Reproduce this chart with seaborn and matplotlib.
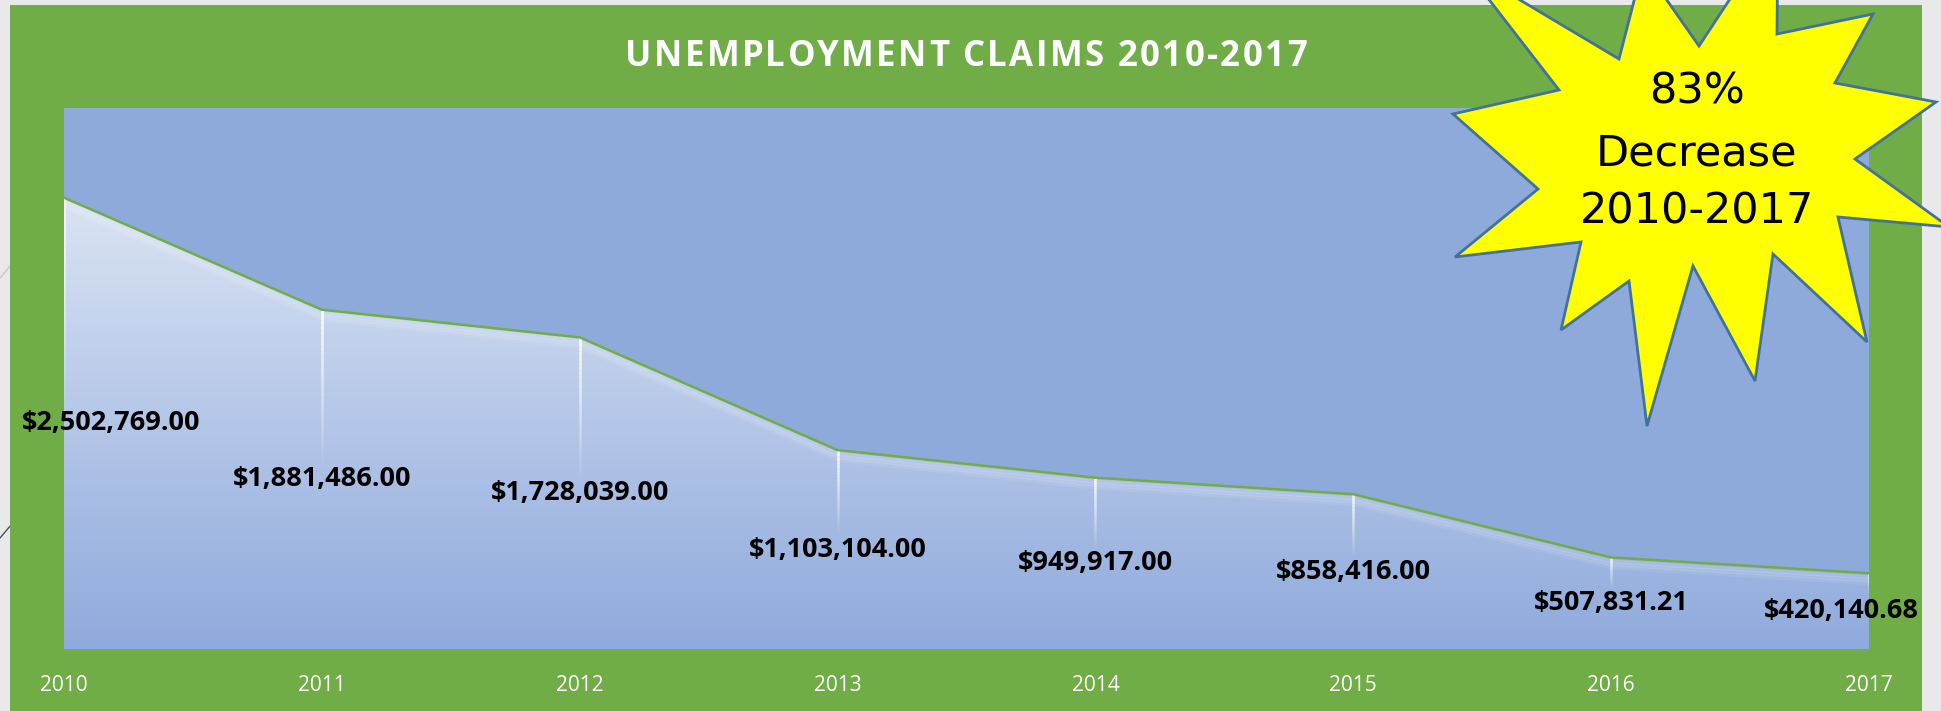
import numpy as np
import pandas as pd
import seaborn as sns
import matplotlib
matplotlib.use("Agg")
import matplotlib.pyplot as plt
import matplotlib.transforms as mtransforms
from matplotlib.patches import Rectangle, Polygon
from matplotlib.lines import Line2D
from matplotlib.collections import LineCollection
from matplotlib.colors import LinearSegmentedColormap

# data
years = ["2010", "2011", "2012", "2013", "2014", "2015", "2016", "2017"]
claims = [2502769.00, 1881486.00, 1728039.00, 1103104.00, 949917.00, 858416.00, 507831.21, 420140.68]
title = "UNEMPLOYMENT CLAIMS 2010-2017"
burst_lines = ["83%", "Decrease", "2010-2017"]

# colours / layout
GREEN = "#70AD47"
PLOT_BG = "#8EAADB"
W, H = 1941, 711
label_dx = [34, 0, 0, 0, 0, 0, 0, -20]  # points, keeps end labels inside the panel

sns.set_style("white")
plt.rcParams["font.family"] = ["Open Sans", "DejaVu Sans"]

fig = plt.figure(figsize=(W / 100, H / 100), dpi=100, facecolor="#e9e9e9")


def fx(x):
    return x / W


def fy(y):
    return 1 - y / H


# stray lines from an object behind the chart (left edge)
fig.add_artist(Line2D([0, fx(11)], [fy(278), fy(265)], color="#c8c8c8", lw=1, zorder=-10))
fig.add_artist(Line2D([0, fx(11)], [fy(538), fy(525)], color="#44546A", lw=1, zorder=-10))

# green chart panel
fig.add_artist(Rectangle((fx(10), 0), fx(1912), 706 / H, transform=fig.transFigure,
                         facecolor=GREEN, edgecolor="none", zorder=-5))

ax = fig.add_axes([fx(64), fy(649), fx(1805), 541 / H])
ax.set_facecolor(PLOT_BG)

df = pd.DataFrame({"pos": np.arange(len(years)), "year": years, "claims": claims})

# gradient area
fill = ax.fill_between(df["pos"], 0, df["claims"], facecolor="none", edgecolor="none")
cmap = LinearSegmentedColormap.from_list("area", ["#8FAADC", "#DAE3F3"])
grad = np.linspace(0, 1, 256).reshape(-1, 1)
im = ax.imshow(grad, extent=[0, len(years) - 1, 0, max(claims)], origin="lower",
               aspect="auto", cmap=cmap, zorder=1)
im.set_clip_path(fill.get_paths()[0], ax.transData)

# soft highlight just under the top edge
for off, a in [(3, 0.12), (5, 0.12), (7, 0.08)]:
    shift = mtransforms.ScaledTranslation(0, -off / 72, fig.dpi_scale_trans)
    ax.plot(df["pos"], df["claims"], color="white", alpha=a, lw=3, zorder=2,
            transform=ax.transData + shift, solid_capstyle="butt")

sns.lineplot(data=df, x="pos", y="claims", color=GREEN, lw=1.8, ax=ax, zorder=4)

# white leader lines fading towards the labels
for i, v in enumerate(claims):
    top, bottom = v, v / 2 + 90000
    ys = np.linspace(top, bottom, 31)
    segs = [[(i, ys[k]), (i, ys[k + 1])] for k in range(30)]
    alphas = np.linspace(0.95, 0.05, 30)
    lc = LineCollection(segs, colors=[(1, 1, 1, a) for a in alphas], linewidths=1.8, zorder=3)
    ax.add_collection(lc)

# data labels in the middle of the area
for i, v in enumerate(claims):
    ax.annotate(f"${v:,.2f}", (i, v / 2), xytext=(label_dx[i], 0), textcoords="offset points",
                ha="center", va="center", fontsize=19.5, fontweight="bold", color="black",
                zorder=6, annotation_clip=False)

ax.set_xlim(0, len(years) - 1)
ax.set_ylim(0, 3000000)
ax.set_xticks(df["pos"])
ax.set_xticklabels(years, color="white", fontsize=15)
ax.tick_params(axis="x", length=0, pad=19)
ax.set_yticks([])
ax.set_xlabel("")
ax.set_ylabel("")
for s in ax.spines.values():
    s.set_visible(False)

# letter-spaced title
renderer = fig.canvas.get_renderer()
tkw = dict(fontsize=25, fontweight="bold", color="white")


def text_width(s):
    t = fig.text(0, 0, s, **tkw)
    w = t.get_window_extent(renderer).width
    t.remove()
    return w


target_w = 681
base_w = text_width(title)
extra = (target_w - base_w) / (len(title) - 1)
x0 = 966 - target_w / 2
ref_w = text_width("X")
for i, ch in enumerate(title):
    if ch == " ":
        continue
    x = x0 + text_width(title[:i] + "X") - ref_w + extra * i
    fig.text(fx(x), fy(66), ch, ha="left", va="baseline", **tkw)

# starburst callout (figure pixel coords)
burst = [(1453, 114), (1559, 90), (1463, -34), (1619, 59), (1643, -34), (1699, 46),
         (1778, -74), (1777, 34), (1873, 14), (1835, 83), (1936, 102), (1855, 159),
         (1949, 227), (1838, 217), (1867, 342), (1773, 254), (1755, 381), (1693, 266),
         (1647, 426), (1629, 281), (1561, 330), (1581, 242), (1455, 257), (1538, 189)]
fig.add_artist(Polygon([(fx(x), fy(y)) for x, y in burst], closed=True, transform=fig.transFigure,
                       facecolor="#FFFF00", edgecolor="#41719C", lw=2, zorder=10, clip_on=False))
for line, yc in zip(burst_lines, [91, 153, 211]):
    fig.text(fx(1697), fy(yc), line, ha="center", va="center", fontsize=31,
             family=["DejaVu Sans"], color="black", zorder=11)

fig.savefig("out.png", dpi=100, facecolor=fig.get_facecolor())
